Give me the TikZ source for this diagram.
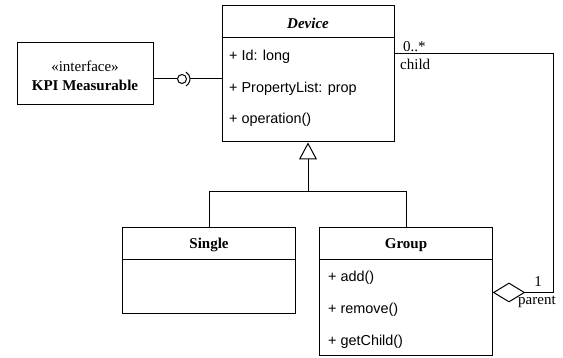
\documentclass[tikz,border=0pt]{standalone}
\usepackage{fontspec}
\setmainfont{Liberation Serif}
\newfontfamily\attrfont{Liberation Sans}
\usetikzlibrary{arrows.meta,shapes.geometric}
\begin{document}
\begin{tikzpicture}[x=1pt,y=-1pt,
  box/.style={draw,line width=1pt,inner sep=0pt},
  ttl/.style={font=\fontsize{15}{17}\selectfont\bfseries,inner sep=0pt},
  attr/.style={font=\attrfont\fontsize{14.4}{16}\selectfont,anchor=west,inner sep=0pt},
  lbl/.style={font=\fontsize{15}{17}\selectfont,inner sep=0pt},
  conn/.style={line width=1pt},
  inh/.style={conn,-{Triangle[open,length=17pt,width=18pt,line width=1pt]}}]
\useasboundingbox (0,0) rectangle (563,358);
% Device
\node[box,minimum width=172pt,minimum height=136pt] (dev) at (308,74) {};
\draw[conn] (dev.west |- 0,38) -- (dev.east |- 0,38);
\node[ttl,font=\fontsize{15}{17}\selectfont\bfseries\itshape] (devt) at (308,23) {Device};
\node[attr] (a1) at (229,57) {+ Id: long};
\node[attr] (a2) at (229,88.5) {+ PropertyList: prop};
\node[attr] (a3) at (229,120) {+ operation()};
% Interface
\node[box,minimum width=136pt,minimum height=62pt] (kpi) at (85,74) {};
\node[lbl] (kpis) at (85,66) {«interface»};
\node[ttl] (kpin) at (85,85) {KPI Measurable};
% lollipop
\node[draw,circle,line width=1pt,minimum size=9pt,inner sep=0pt] (lol) at (182,79) {};
\draw[conn] (kpi.east |- lol) -- (lol.west);
\draw[conn] (182,79) ++(-60:8pt) arc[start angle=-60,end angle=60,radius=8pt];
\coordinate (sock) at (190,79);
\draw[conn] (sock) -- (dev.west |- sock);
% Single
\node[box,minimum width=173pt,minimum height=86pt] (sgl) at (209,271) {};
\draw[conn] (sgl.west |- 0,260) -- (sgl.east |- 0,260);
\node[ttl] (sglt) at (209,245) {Single};
% Group
\node[box,minimum width=173pt,minimum height=128pt] (grp) at (406,292) {};
\draw[conn] (grp.west |- 0,260) -- (grp.east |- 0,260);
\node[ttl] (grpt) at (406,245) {Group};
\node[attr] (g1) at (328,278) {+ add()};
\node[attr] (g2) at (328,310) {+ remove()};
\node[attr] (g3) at (328,342) {+ getChild()};
% Inheritance
\coordinate (j) at (308,191.5);
\draw[conn] (sgl.north) |- (j) -| (grp.north);
\draw[inh] (j) -- (dev.south);
% Aggregation
\node[draw,diamond,line width=1pt,minimum width=31pt,minimum height=19pt,inner sep=0pt,anchor=west] (agg) at (grp.east |- 0,292.5) {};
\coordinate (c1) at (553,53.5);
\draw[conn] (agg.east) -| (c1) -- (dev.east |- c1);
\node[lbl,anchor=west] (m1) at (403,47) {0..*};
\node[lbl,anchor=west] (r1) at (400,64) {child};
\node[lbl] (m2) at (538,282) {1};
\node[lbl,anchor=west] (r2) at (518,302) {parent};
\end{tikzpicture}
\end{document}
